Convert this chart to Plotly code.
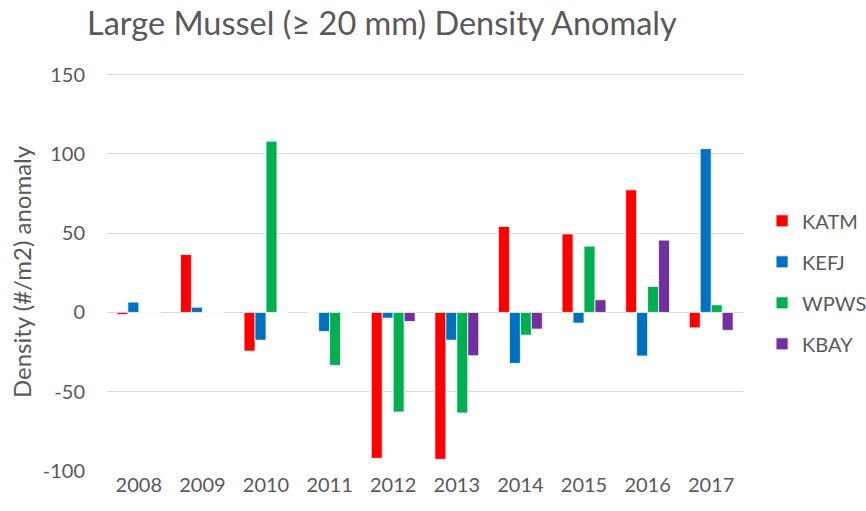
import plotly.graph_objects as go

years = ["2008", "2009", "2010", "2011", "2012", "2013", "2014", "2015", "2016", "2017"]
katm = [-1.3, 36.5, -24.4, 0, -92.0, -92.6, 54.2, 49.5, 77.3, -9.7]
kefj = [6.5, 3.3, -17.5, -12.0, -3.6, -17.5, -32.1, -6.7, -27.5, 103.3]
wpws = [0, 0, 108.0, -33.4, -62.8, -63.4, -14.3, 41.8, 16.4, 4.8]
kbay = [0, 0, 0, 0, -5.7, -27.3, -10.5, 8.0, 45.6, -11.3]
series_names = ["KATM", "KEFJ", "WPWS", "KBAY"]
colors = ["#FF0000", "#0070C0", "#00B050", "#7030A0"]
y_ticks = [-100, -50, 0, 50, 100, 150]
y_tick_text = ["-100", "-50", "0", "50", "100", "150"]

fig = go.Figure()
for name, vals, col in zip(series_names, [katm, kefj, wpws, kbay], colors):
    fig.add_trace(go.Bar(
        x=years, y=vals, name=name, legendgroup=name,
        marker=dict(color=col, line=dict(color="white", width=0.75)),
    ))

font_fam = "Lato, Open Sans, sans-serif"
txt = "#595959"
W, H = 866, 511
fig.update_layout(
    width=W, height=H,
    paper_bgcolor="white", plot_bgcolor="white",
    margin=dict(l=107, r=123, t=73, b=40, autoexpand=False),
    barmode="group", bargap=0.31, bargroupgap=0,
    title=dict(text="Large Mussel (≥ 20 mm) Density Anomaly",
               x=87/W, xanchor="left", y=1 - 24/H, yanchor="middle",
               font=dict(family=font_fam, size=32.5, color=txt)),
    font=dict(family=font_fam, size=20, color=txt),
    legend=dict(x=1.03, xanchor="left", y=0.474, yanchor="middle",
                traceorder="grouped", tracegroupgap=12,
                font=dict(family=font_fam, size=20, color=txt),
                itemwidth=30),
    xaxis=dict(showline=False, ticks="", showgrid=False, automargin=False,
               tickfont=dict(size=20, color=txt)),
    yaxis=dict(range=[-100, 151], tickvals=y_ticks, ticktext=y_tick_text,
               showgrid=True, automargin=False,
               gridcolor="#D9D9D9", gridwidth=1, zeroline=True,
               zerolinecolor="#D9D9D9", zerolinewidth=1, ticks="",
               ticklabelstandoff=21,
               showline=False, tickfont=dict(size=20, color=txt),
               title=dict(text="Density (#/m2) anomaly", standoff=4,
                          font=dict(size=24, color=txt))),
)
fig.write_html("out.html", config={"displayModeBar": False},
               post_script="document.body.style.margin='0';")
